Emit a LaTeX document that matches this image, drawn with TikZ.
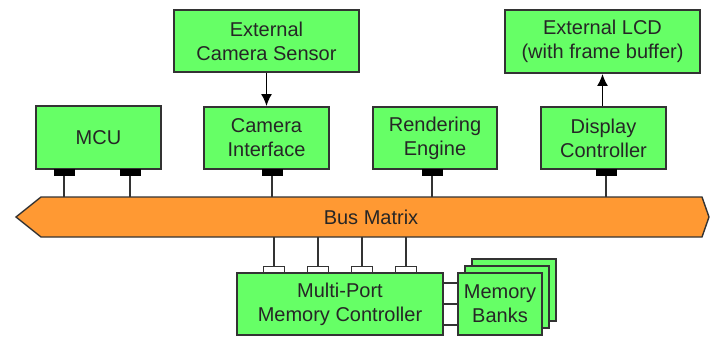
\documentclass[tikz,border=0pt]{standalone}
\usepackage{fontspec}
\setmainfont{Liberation Sans}
\usepackage{xcolor}
\usetikzlibrary{arrows.meta,positioning,calc}

\definecolor{blockgreen}{HTML}{66FF66}
\definecolor{busorange}{HTML}{FF9933}
\definecolor{edgegray}{HTML}{333333}

\begin{document}
\begin{tikzpicture}[x=1pt, y=-1pt,
  block/.style={draw=edgegray, line width=1.8pt, fill=blockgreen, align=center,
    inner sep=0pt, text=black!85, font=\fontsize{20}{24}\selectfont},
  port/.style={draw=black, fill=black, line width=0.8pt, minimum width=20pt, minimum height=6pt, inner sep=0pt},
  memport/.style={draw=edgegray, fill=white, line width=1.5pt, minimum width=21pt, minimum height=6pt, inner sep=0pt},
  link/.style={line width=1.8pt, edgegray},
  arrow/.style={-{Latex[length=12pt,width=11pt]}, line width=1.8pt}
]
\useasboundingbox (0,0) rectangle (710,337);

% external devices
\node[block, minimum width=185pt, minimum height=62pt] (cam) at (266.5,41) {External\\Camera Sensor};
\node[block, minimum width=195pt, minimum height=63pt] (lcd) at (602.5,41.5) {External LCD\\(with frame buffer)};

% masters on the bus
\node[block, minimum width=125pt, minimum height=63pt] (mcu) at (98.5,137.5) {MCU};
\node[block, minimum width=125pt, minimum height=62pt] (camif) at (266.5,138) {Camera\\Interface};
\node[block, minimum width=124pt, minimum height=62pt] (render) at (435,138) {Rendering\\Engine};
\node[block, minimum width=125pt, minimum height=62pt] (disp) at (603.5,138) {Display\\Controller};

\draw[arrow] (cam) -- (camif);
\draw[arrow] (disp.north -| lcd.south) -- (lcd.south);

% bus matrix
\draw[edgegray, line width=1.4pt, fill=busorange] (16,217) -- (41,197) -- (702,197) -- (709,217)
  -- (702,237) -- (41,237) -- cycle;
\node[font=\fontsize{20}{24}\selectfont, text=black!85] (bus) at (371,217) {Bus Matrix};
\coordinate (bustop) at (0,197);
\coordinate (busbot) at (0,237);

% bus ports of the masters
\node[port] (mcu1) at (64,172.5) {};
\node[port] (mcu2) at (130,172.5) {};
\node[port] (camp) at (272,172.5) {};
\node[port] (renp) at (432,172.5) {};
\node[port] (disp1) at (606,172.5) {};
\foreach \p in {mcu1,mcu2,camp,renp,disp1}
  \draw[link] (\p.south) -- (\p.south |- bustop);

% memory side
\node[block, minimum width=206pt, minimum height=62pt] (memctl) at (340,304) {Multi-Port\\Memory Controller};
\node[block, minimum width=84pt, minimum height=62pt] (bank3) at (514,290) {};
\node[block, minimum width=84pt, minimum height=62pt] (bank2) at (507,297) {};
\node[block, minimum width=84pt, minimum height=62pt] (bank1) at (500,304) {Memory\\Banks};

\foreach \x [count=\i] in {274,318,362,406} {
  \node[memport] (mp\i) at (\x,269.5) {};
  \draw[link] (mp\i.north) -- (mp\i.north |- busbot);
}
\foreach \y in {-21,0,21}
  \draw[link] ($(memctl.east)+(0,\y)$) -- ($(bank1.west)+(0,\y)$);
\end{tikzpicture}
\end{document}
